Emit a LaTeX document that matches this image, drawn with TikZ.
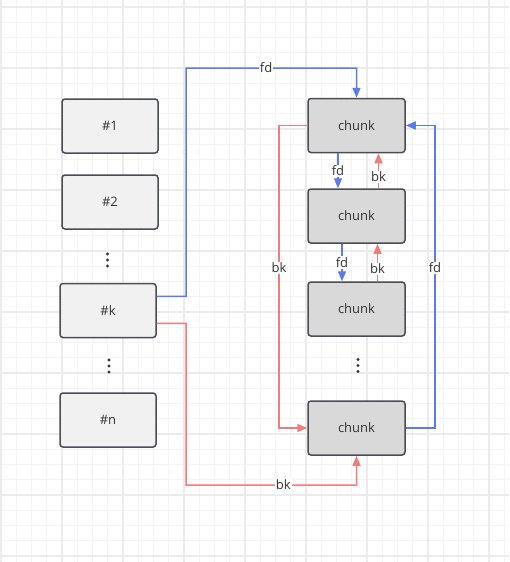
\documentclass[tikz,border=0pt]{standalone}
\usepackage{fontspec}
\setmainfont{Open Sans}
\usetikzlibrary{arrows.meta}
\definecolor{gridmaj}{HTML}{EBEBEB}
\definecolor{gridmin}{HTML}{F4F4F4}
\definecolor{boxline}{HTML}{4A4E54}
\definecolor{leftfill}{HTML}{F1F1F1}
\definecolor{chunkfill}{HTML}{D9D9D9}
\definecolor{fdblue}{HTML}{5B7BE8}
\definecolor{bkred}{HTML}{F07C7C}
\definecolor{txt}{HTML}{333333}
\begin{document}
\begin{tikzpicture}[x=1pt,y=-1pt,
  every node/.style={font=\fontsize{13}{15}\selectfont, text=txt},
  slot/.style={draw=boxline, line width=1.5pt, rounded corners=3pt, fill=leftfill, minimum width=96pt, minimum height=54pt, inner sep=0pt},
  chunkbox/.style={draw=boxline, line width=1.5pt, rounded corners=3pt, fill=chunkfill, minimum width=97pt, minimum height=54pt, inner sep=0pt},
  fdline/.style={draw=fdblue, line width=1.5pt, -{Triangle[length=10pt,width=8pt]}},
  bkline/.style={draw=bkred, line width=1.5pt, -{Triangle[length=10pt,width=8pt]}},
  lbl/.style={fill=white, inner sep=1pt}
]
\useasboundingbox (0,0) rectangle (509,562);
\fill[white] (0,0) rectangle (509,562);
% grid
\foreach \i in {0,...,33} {
  \draw[gridmin, line width=0.8pt] ({1+15.25*\i},0) -- ({1+15.25*\i},562);
}
\foreach \i in {-1,...,36} {
  \draw[gridmin, line width=0.8pt] (0,{6.7+15.25*\i}) -- (509,{6.7+15.25*\i});
}
\foreach \i in {0,...,8} {
  \draw[gridmaj, line width=1.6pt] ({1+61*\i},0) -- ({1+61*\i},562);
}
\foreach \i in {0,...,9} {
  \draw[gridmaj, line width=1.6pt] (0,{6.7+61*\i}) -- (509,{6.7+61*\i});
}
% left slots
\node[slot] (s1) at (110,126) {\#1};
\node[slot] (s2) at (110,202) {\#2};
\node[slot] (sk) at (108,310.5) {\#k};
\node[slot] (sn) at (108,420) {\#n};
% chunks
\node[chunkbox] (c1) at (356.5,125.5) {chunk};
\node[chunkbox] (c2) at (356.5,216) {chunk};
\node[chunkbox] (c3) at (356.5,309) {chunk};
\node[chunkbox] (c4) at (356.5,428) {chunk};
% dots
\foreach \yy in {254,260,266} { \fill[txt] (107.5,\yy) circle (1.6pt); }
\foreach \yy in {360,366,372} { \fill[txt] (109,\yy) circle (1.6pt); }
\foreach \yy in {359.5,365.5,371.5} { \fill[txt] (358,\yy) circle (1.6pt); }
% long fd: #k -> c1 top
\draw[fdline] ([yshift=14pt]sk.east) -- (186,296.3) -- (186,68) -- node[lbl,pos=0.47]{fd} (356.5,68) -- (c1.north);
% long bk: #k -> c4 bottom
\draw[bkline] ([yshift=-13pt]sk.east) -- (186,323.3) -- (186,485) -- node[lbl,pos=0.57]{bk} (356.5,485) -- (c4.south);
% c1 -> c4 bk left
\draw[bkline] (c1.west) -- (279,125.5) -- node[lbl,pos=0.47]{bk} (279,428) -- (c4.west);
% c4 -> c1 fd right
\draw[fdline] (c4.east) -- (435,428) -- node[lbl,pos=0.53]{fd} (435,125.5) -- (c1.east);
% c1 <-> c2
\draw[fdline] ([xshift=-18.5pt]c1.south) -- node[lbl,pos=0.5]{fd} ([xshift=-18.5pt]c2.north);
\draw[bkline] ([xshift=22pt]c2.north) -- node[lbl,pos=0.33]{bk} ([xshift=22pt]c1.south);
% c2 <-> c3
\draw[fdline] ([xshift=-14.5pt]c2.south) -- node[lbl,pos=0.5]{fd} ([xshift=-14.5pt]c3.north);
\draw[bkline] ([xshift=21pt]c3.north) -- node[lbl,pos=0.33]{bk} ([xshift=21pt]c2.south);
\end{tikzpicture}
\end{document}
